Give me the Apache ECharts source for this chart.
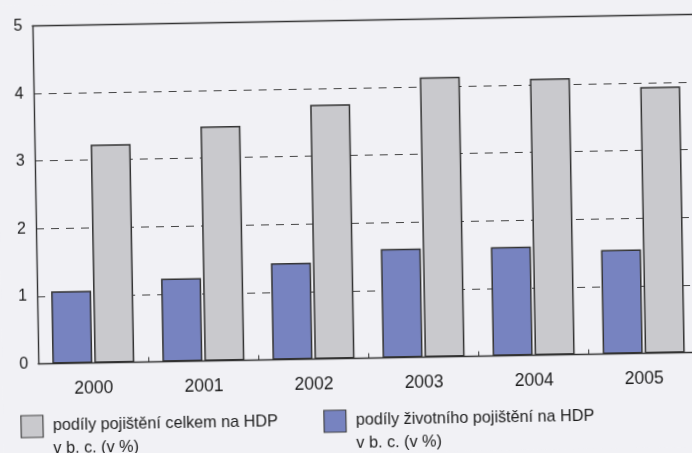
<!DOCTYPE html>
<html>
<head>
<meta charset="utf-8">
<script src="https://cdn.jsdelivr.net/npm/echarts@6/dist/echarts.min.js"></script>
<style>
  html, body { margin: 0; padding: 0; background: #f1f1f5; overflow: hidden; }
  #chart {
    position: absolute; left: 0; top: 0;
    width: 700px; height: 453px;
    transform-origin: 346px 226.5px;
    transform: rotate(-1deg);
  }
</style>
</head>
<body>
<div id="chart"></div>
<script>
// Years on the category axis
const years = ['2000', '2001', '2002', '2003', '2004', '2005'];
// Share of total insurance premiums in GDP (%)
const totalShare = [3.23, 3.47, 3.76, 4.14, 4.09, 3.94];
// Share of life insurance premiums in GDP (%)
const lifeShare = [1.07, 1.23, 1.43, 1.61, 1.61, 1.54];
// Value-axis ticks
const yTicks = [0, 1, 2, 3, 4, 5];

const nameTotal = 'podíly pojištění celkem na HDP\nv b. c. (v %)';
const nameLife = 'podíly životního pojištění na HDP\nv b. c. (v %)';

const FONT = '"Liberation Sans", Arial, sans-serif';
const INK = '#1c1c1c';

const legendBase = {
  orient: 'horizontal', itemWidth: 22, itemHeight: 22, padding: 0,
  icon: 'rect', selectedMode: false,
  // a leading empty line keeps the first text line level with the swatch
  formatter: name => '\n' + name,
  textStyle: { fontFamily: FONT, fontSize: 16.2, color: INK, lineHeight: 23, padding: [0, 0, 0, 5] },
  itemStyle: { borderColor: '#444', borderWidth: 1.2 }
};

const chart = echarts.init(document.getElementById('chart'), null, { renderer: 'canvas' });
chart.setOption({
  backgroundColor: '#f1f1f5',
  animation: false,
  grid: { left: 36, right: 3.4, top: 20.5, bottom: 94.4, containLabel: false },
  legend: [
    Object.assign({ data: [nameTotal], left: 17, top: 386.5 }, legendBase),
    Object.assign({ data: [nameLife], left: 320, top: 386.5 }, legendBase)
  ],
  xAxis: [
    {
      type: 'category', data: years, position: 'bottom',
      axisLine: { lineStyle: { color: '#333', width: 1.4 } },
      axisTick: { show: true, inside: true, length: 5, lineStyle: { color: '#333', width: 1 } },
      axisLabel: { fontFamily: FONT, fontSize: 17.5, color: INK, margin: 17 }
    },
    {
      type: 'category', data: years, position: 'top',
      axisLine: { lineStyle: { color: '#333', width: 1.4 } },
      axisTick: { show: false }, axisLabel: { show: false }
    }
  ],
  yAxis: {
    type: 'value', min: yTicks[0], max: yTicks[yTicks.length - 1], interval: 1,
    axisLine: { show: true, lineStyle: { color: '#333', width: 1.4 } },
    axisTick: { show: false },
    axisLabel: { fontFamily: FONT, fontSize: 16, color: INK, margin: 10 },
    splitLine: { lineStyle: { color: '#444', width: 1.2, type: [8, 7] } }
  },
  series: [
    {
      name: nameLife, type: 'bar', data: lifeShare,
      barWidth: 40, barGap: '5%',
      itemStyle: { color: '#7783c0', borderColor: '#333', borderWidth: 1.5 }
    },
    {
      name: nameTotal, type: 'bar', data: totalShare,
      barWidth: 40,
      itemStyle: { color: '#c9c9cd', borderColor: '#333', borderWidth: 1.5 }
    }
  ]
});
</script>
</body>
</html>
